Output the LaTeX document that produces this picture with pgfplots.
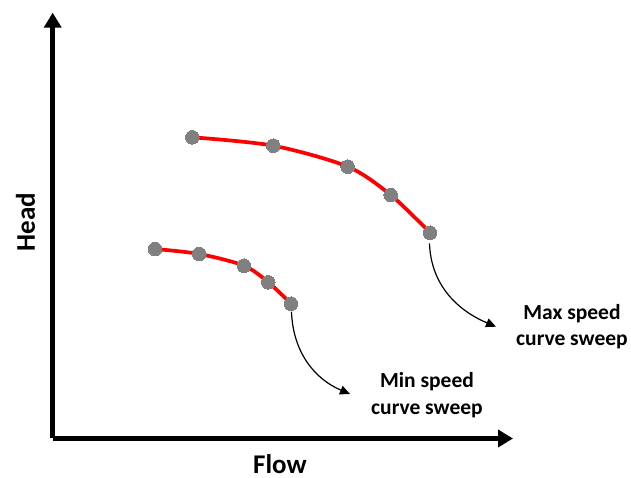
\documentclass[border=0pt]{standalone}
\usepackage{pgfplots}
\pgfplotsset{compat=1.18}
\usepackage{fontspec}
\setmainfont{Carlito}
\usetikzlibrary{arrows.meta}
\definecolor{markgray}{RGB}{128,128,128}
\begin{document}
\begin{tikzpicture}
\begin{axis}[
  scale only axis,
  width=460.3pt, height=425.8pt,
  xmin=52.7, xmax=513, ymin=39.5, ymax=465.3,
  enlargelimits=false,
  axis lines=left,
  axis line style={line width=5pt, -{Triangle[width=17pt,length=15pt]}},
  xtick=\empty, ytick=\empty,
  clip=false,
]
\path (axis cs:0,0) rectangle (axis cs:631,478);
\addplot[red, line width=3.7pt, smooth, mark=*, mark size=6.8pt,
  mark options={fill=markgray, draw=markgray, line width=0pt}]
  coordinates {(192.3,340.7) (273.3,332.3) (347.7,311.3) (390.7,283) (430,245.3)};
\addplot[red, line width=3.7pt, smooth, mark=*, mark size=6.8pt,
  mark options={fill=markgray, draw=markgray, line width=0pt}]
  coordinates {(155,229) (199.3,224) (244,212.3) (268.3,195.7) (291,174.3)};
\draw[line width=1.2pt, -{Triangle[width=9pt,length=10pt]}]
  (axis cs:429.5,234.5) to[out=-88,in=157] (axis cs:496,151.3);
\draw[line width=1.2pt, -{Triangle[width=9pt,length=10pt]}]
  (axis cs:291.5,166.3) to[out=-88,in=157] (axis cs:350,84);
\tikzset{lbl/.style={anchor=base, inner sep=0pt, font=\fontsize{21.5}{26}\selectfont\bfseries}}
\node[lbl] at (axis cs:572,158.7) {Max speed};
\node[lbl] at (axis cs:572,132.3) {curve sweep};
\node[lbl] at (axis cs:427,90.3) {Min speed};
\node[lbl] at (axis cs:427,63) {curve sweep};
\node[anchor=base, inner sep=0pt, font=\fontsize{27}{32}\selectfont\bfseries] at (axis cs:280,4) {Flow};
\node[anchor=base, inner sep=0pt, rotate=90, font=\fontsize{27}{32}\selectfont\bfseries] at (axis cs:35,256) {Head};
\end{axis}
\end{tikzpicture}
\end{document}
